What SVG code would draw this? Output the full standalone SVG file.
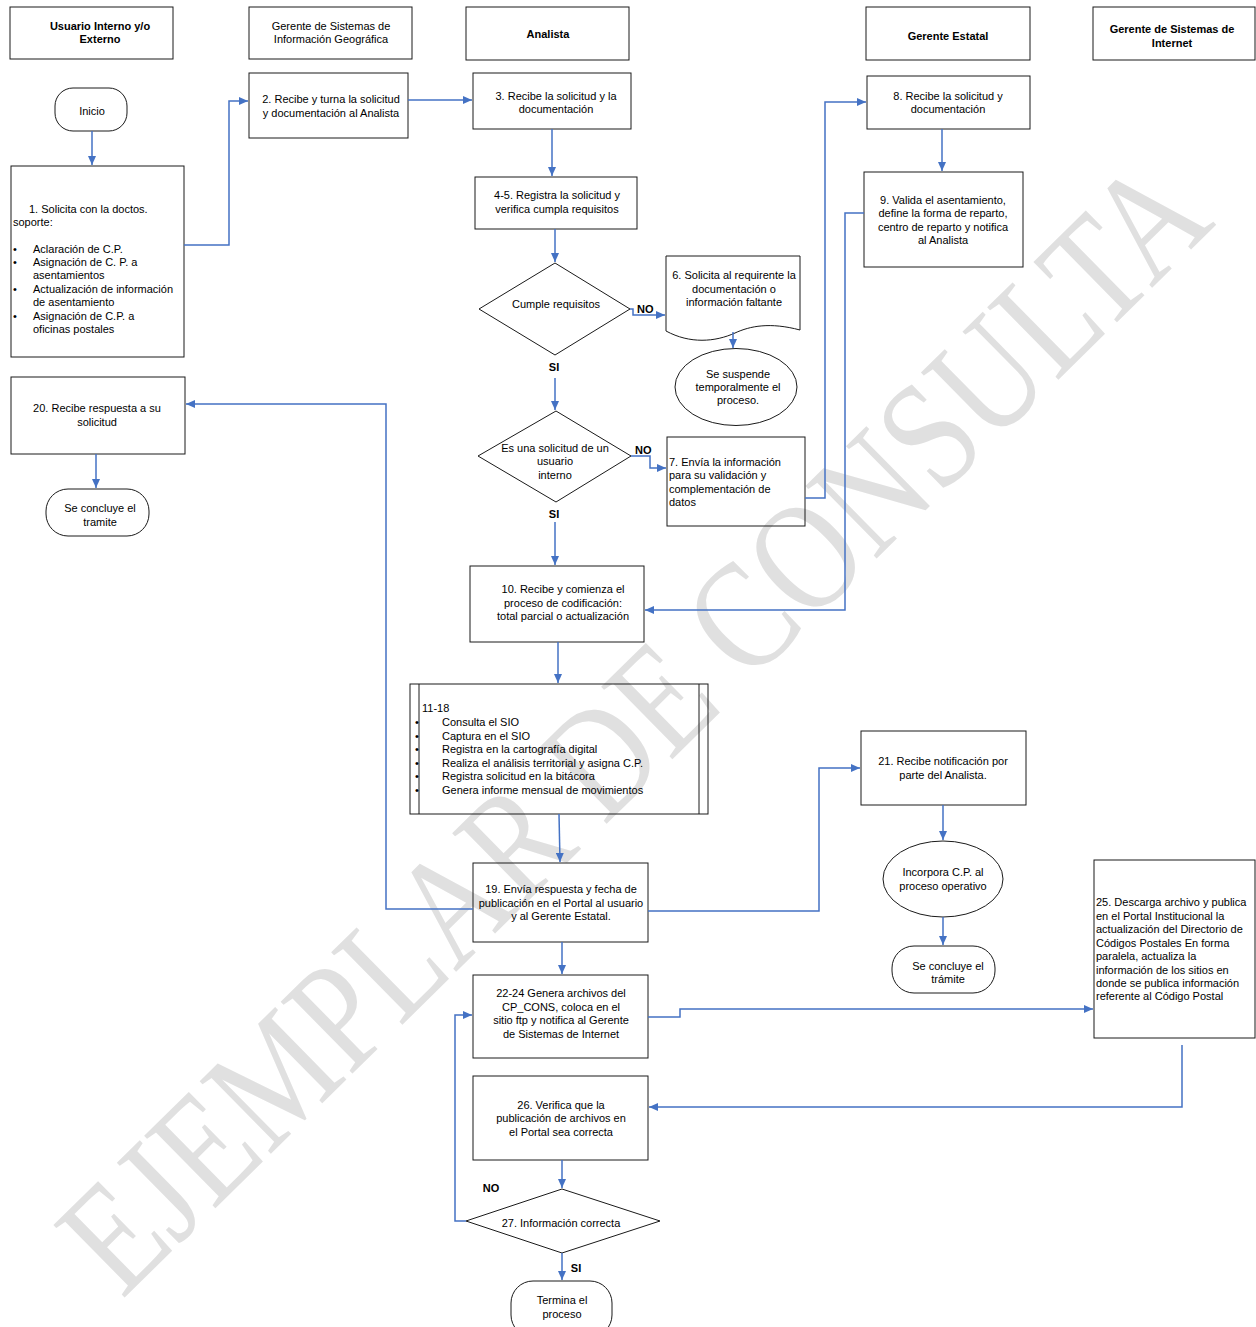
<svg xmlns="http://www.w3.org/2000/svg" width="1256" height="1327" viewBox="0 0 1256 1327">
<style>
.t{font-family:"Liberation Sans",Arial,sans-serif;font-size:11px;fill:#000}
.c{text-anchor:middle}
.b{font-weight:bold}
.box{fill:none;stroke:#1a1a1a;stroke-width:1}
.con{fill:none;stroke:#4472C4;stroke-width:1.5}
.wm{font-family:"Liberation Serif","Times New Roman",serif;font-size:155px;fill:#e0e0e0}
</style>
<defs>
<marker id="ah" markerUnits="userSpaceOnUse" markerWidth="9" markerHeight="8" refX="9" refY="4" orient="auto">
<path d="M0,0 L9,4 L0,8 z" fill="#4472C4"/>
</marker>
</defs>
<rect width="1256" height="1327" fill="#fff"/>
<text class="wm" transform="translate(122,1300) rotate(-44.5)" x="0" y="0" textLength="1535" lengthAdjust="spacingAndGlyphs">EJEMPLAR DE CONSULTA</text>

<g id="h1"><rect class="box" x="10" y="7" width="163" height="52"/><text class="t c b"><tspan x="100" y="30">Usuario Interno y/o</tspan><tspan x="100" y="43">Externo</tspan></text></g>
<g id="h2"><rect class="box" x="249" y="7" width="163" height="52"/><text class="t c"><tspan x="331" y="30">Gerente de Sistemas de</tspan><tspan x="331" y="43">Información Geográfica</tspan></text></g>
<g id="h3"><rect class="box" x="466" y="7" width="163" height="53"/><text class="t c b" x="548" y="38">Analista</text></g>
<g id="h4"><rect class="box" x="866" y="7" width="164" height="53"/><text class="t c b" x="948" y="40">Gerente Estatal</text></g>
<g id="h5"><rect class="box" x="1093" y="7" width="162" height="53"/><text class="t c b"><tspan x="1172" y="33">Gerente de Sistemas de</tspan><tspan x="1172" y="47">Internet</tspan></text></g>

<g id="inicio"><rect class="box" x="55" y="88" width="72" height="43" rx="18"/><text class="t c" x="92" y="115">Inicio</text></g>
<g id="n1"><rect class="box" x="11" y="166" width="173" height="191"/>
<text class="t"><tspan x="29" y="213">1. Solicita con la doctos.</tspan><tspan x="13" y="226">soporte:</tspan>
<tspan x="13" y="253">•</tspan><tspan x="33" y="253">Aclaración de C.P.</tspan>
<tspan x="13" y="266">•</tspan><tspan x="33" y="266">Asignación de C. P. a</tspan>
<tspan x="33" y="279">asentamientos</tspan>
<tspan x="13" y="293">•</tspan><tspan x="33" y="293">Actualización de información</tspan>
<tspan x="33" y="306">de asentamiento</tspan>
<tspan x="13" y="320">•</tspan><tspan x="33" y="320">Asignación de C.P.  a</tspan>
<tspan x="33" y="333">oficinas postales</tspan></text></g>
<g id="n2"><rect class="box" x="249" y="73" width="159" height="65"/><text class="t c"><tspan x="331" y="103">2. Recibe y turna la solicitud</tspan><tspan x="331" y="117">y documentación al Analista</tspan></text></g>
<g id="n3"><rect class="box" x="473" y="73" width="158" height="56"/><text class="t c"><tspan x="556" y="100">3. Recibe la solicitud y la</tspan><tspan x="556" y="113">documentación</tspan></text></g>
<g id="n45"><rect class="box" x="475" y="177" width="162" height="52"/><text class="t c"><tspan x="557" y="199">4-5. Registra la solicitud y</tspan><tspan x="557" y="213">verifica cumpla requisitos</tspan></text></g>
<g id="d1"><path class="box" d="M555,263 L630,309 L555,355 L479,309 Z"/><text class="t c" x="556" y="308">Cumple requisitos</text></g>
<g id="n6"><path class="box" d="M666,256 H800 V330 C770,322 750,326 735,333 C715,342 690,344 666,331 Z"/><text class="t c"><tspan x="734" y="279">6. Solicita al requirente la</tspan><tspan x="734" y="293">documentación o</tspan><tspan x="734" y="306">información faltante</tspan></text></g>
<g id="susp"><ellipse class="box" cx="736" cy="387" rx="61" ry="38.5"/><text class="t c"><tspan x="738" y="378">Se suspende</tspan><tspan x="738" y="391">temporalmente el</tspan><tspan x="738" y="404">proceso.</tspan></text></g>
<g id="d2"><path class="box" d="M556,411 L631,456 L556,502 L478,456 Z"/><text class="t c"><tspan x="555" y="452">Es una solicitud de un</tspan><tspan x="555" y="465">usuario</tspan><tspan x="555" y="479">interno</tspan></text></g>
<g id="n7"><rect class="box" x="667" y="437" width="138" height="89"/><text class="t"><tspan x="669" y="466">7. Envía la  información</tspan><tspan x="669" y="479">para su validación y</tspan><tspan x="669" y="493">complementación de</tspan><tspan x="669" y="506">datos</tspan></text></g>
<g id="n8"><rect class="box" x="867" y="76" width="163" height="53"/><text class="t c"><tspan x="948" y="100">8. Recibe la solicitud y</tspan><tspan x="948" y="113">documentación</tspan></text></g>
<g id="n9"><rect class="box" x="864" y="172" width="159" height="95"/><text class="t c"><tspan x="943" y="204">9. Valida el asentamiento,</tspan><tspan x="943" y="217">define la forma de reparto,</tspan><tspan x="943" y="231">centro de reparto y notifica</tspan><tspan x="943" y="244">al Analista</tspan></text></g>
<g id="n10"><rect class="box" x="470" y="566" width="174" height="76"/><text class="t c"><tspan x="563" y="593">10. Recibe y comienza el</tspan><tspan x="563" y="607">proceso de codificación:</tspan><tspan x="563" y="620">total parcial o actualización</tspan></text></g>
<g id="n1118"><rect class="box" x="410" y="684" width="298" height="130"/><line class="box" x1="419" y1="684" x2="419" y2="814"/><line class="box" x1="699" y1="684" x2="699" y2="814"/>
<text class="t"><tspan x="422" y="712">11-18</tspan>
<tspan x="415" y="726">•</tspan><tspan x="442" y="726">Consulta el SIO</tspan>
<tspan x="415" y="740">•</tspan><tspan x="442" y="740">Captura en el SIO</tspan>
<tspan x="415" y="753">•</tspan><tspan x="442" y="753">Registra en la cartografía digital</tspan>
<tspan x="415" y="767">•</tspan><tspan x="442" y="767">Realiza el análisis territorial y asigna C.P.</tspan>
<tspan x="415" y="780">•</tspan><tspan x="442" y="780">Registra solicitud en la bitácora</tspan>
<tspan x="415" y="794">•</tspan><tspan x="442" y="794">Genera informe mensual de movimientos</tspan></text></g>
<g id="n19"><rect class="box" x="473" y="863" width="175" height="79"/><text class="t c"><tspan x="561" y="893">19. Envía respuesta y fecha de</tspan><tspan x="561" y="907">publicación en el Portal al usuario</tspan><tspan x="561" y="920">y al Gerente Estatal.</tspan></text></g>
<g id="n20"><rect class="box" x="11" y="377" width="174" height="77"/><text class="t c"><tspan x="97" y="412">20. Recibe respuesta a su</tspan><tspan x="97" y="426">solicitud</tspan></text></g>
<g id="fin1"><rect class="box" x="46" y="489" width="103" height="47" rx="22"/><text class="t c"><tspan x="100" y="512">Se concluye el</tspan><tspan x="100" y="526">tramite</tspan></text></g>
<g id="n21"><rect class="box" x="861" y="731" width="165" height="74"/><text class="t c"><tspan x="943" y="765">21. Recibe notificación por</tspan><tspan x="943" y="779">parte del Analista.</tspan></text></g>
<g id="incorp"><ellipse class="box" cx="943" cy="879" rx="60" ry="38"/><text class="t c"><tspan x="943" y="876">Incorpora C.P. al</tspan><tspan x="943" y="890">proceso operativo</tspan></text></g>
<g id="fin2"><rect class="box" x="892" y="946" width="103" height="47" rx="22"/><text class="t c"><tspan x="948" y="970">Se concluye el</tspan><tspan x="948" y="983">trámite</tspan></text></g>
<g id="n2224"><rect class="box" x="473" y="975" width="175" height="83"/><text class="t c"><tspan x="561" y="997">22-24  Genera archivos del</tspan><tspan x="561" y="1011">CP_CONS, coloca en el</tspan><tspan x="561" y="1024">sitio ftp  y notifica al Gerente</tspan><tspan x="561" y="1038">de Sistemas de Internet</tspan></text></g>
<g id="n25"><rect class="box" x="1094" y="860" width="161" height="178"/><text class="t"><tspan x="1096" y="906">25. Descarga archivo y publica</tspan><tspan x="1096" y="920">en el Portal Institucional la</tspan><tspan x="1096" y="933">actualización del Directorio de</tspan><tspan x="1096" y="947">Códigos Postales  En forma</tspan><tspan x="1096" y="960">paralela, actualiza la</tspan><tspan x="1096" y="974">información de los sitios en</tspan><tspan x="1096" y="987">donde se publica información</tspan><tspan x="1096" y="1000">referente al Código Postal</tspan></text></g>
<g id="n26"><rect class="box" x="473" y="1076" width="175" height="84"/><text class="t c"><tspan x="561" y="1109">26. Verifica que la</tspan><tspan x="561" y="1122">publicación de archivos en</tspan><tspan x="561" y="1136">el Portal sea correcta</tspan></text></g>
<g id="d27"><path class="box" d="M562,1189 L660,1221 L562,1253 L466,1221 Z"/><text class="t c" x="561" y="1227">27. Información correcta</text></g>
<g id="fin3"><rect class="box" x="511" y="1281" width="101" height="56" rx="22"/><text class="t c"><tspan x="562" y="1304">Termina el</tspan><tspan x="562" y="1318">proceso</tspan></text></g>

<g id="connectors">
<path class="con" marker-end="url(#ah)" d="M92,131 V165"/>
<path class="con" marker-end="url(#ah)" d="M184,245 H229 V101 H248"/>
<path class="con" marker-end="url(#ah)" d="M408,100 H472"/>
<path class="con" marker-end="url(#ah)" d="M552,129 V176"/>
<path class="con" marker-end="url(#ah)" d="M555,229 V262"/>
<path class="con" marker-end="url(#ah)" d="M630,309 H633 V315 H665"/>
<path class="con" marker-end="url(#ah)" d="M733,332 V348"/>
<path class="con" marker-end="url(#ah)" d="M555,378 V410"/>
<path class="con" marker-end="url(#ah)" d="M631,456 H650 V468 H666"/>
<path class="con" marker-end="url(#ah)" d="M805,498 H825 V102 H866"/>
<path class="con" marker-end="url(#ah)" d="M942,129 V171"/>
<path class="con" marker-end="url(#ah)" d="M864,213 H845 V610 H645"/>
<path class="con" marker-end="url(#ah)" d="M555,522 V565"/>
<path class="con" marker-end="url(#ah)" d="M558,642 V683"/>
<path class="con" marker-end="url(#ah)" d="M559,814 L560,862"/>
<path class="con" marker-end="url(#ah)" d="M473,909 H386 V404 H186"/>
<path class="con" marker-end="url(#ah)" d="M96,454 V488"/>
<path class="con" marker-end="url(#ah)" d="M648,911 H819 V768 H860"/>
<path class="con" marker-end="url(#ah)" stroke-width="2" d="M943,805 V840"/>
<path class="con" marker-end="url(#ah)" d="M943,917 V945"/>
<path class="con" marker-end="url(#ah)" d="M562,942 V974"/>
<path class="con" marker-end="url(#ah)" d="M648,1017 H680 V1009 H1093"/>
<path class="con" marker-end="url(#ah)" d="M1182,1045 V1107 H649"/>
<path class="con" marker-end="url(#ah)" d="M562,1160 V1188"/>
<path class="con" marker-end="url(#ah)" d="M466,1221 H455 V1015 H472"/>
<path class="con" marker-end="url(#ah)" d="M562,1253 V1280"/>
<text class="t b" x="637" y="313">NO</text>
<text class="t b" x="635" y="454">NO</text>
<text class="t b c" x="554" y="371">SI</text>
<text class="t b c" x="554" y="518">SI</text>
<text class="t b c" x="491" y="1192">NO</text>
<text class="t b c" x="576" y="1272">SI</text>
</g>
</svg>
